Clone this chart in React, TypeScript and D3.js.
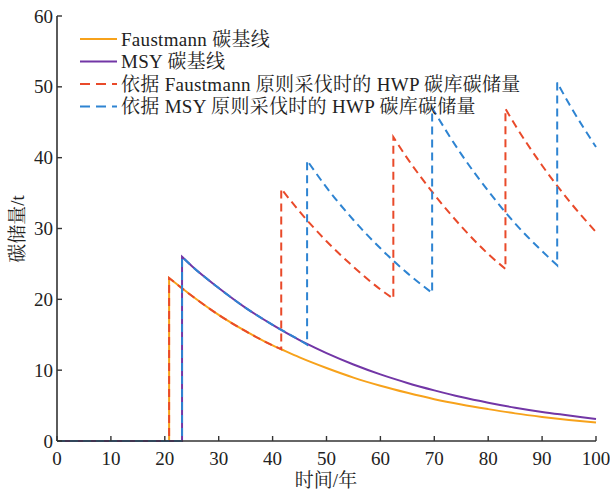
import React from "react";
import * as d3 from "d3";

// ---- data ----
const xTicks = [0, 10, 20, 30, 40, 50, 60, 70, 80, 90, 100];
const yTicks = [0, 10, 20, 30, 40, 50, 60];

// Faustmann carbon baseline
const faustYears = [0, 20.8, 20.8, 25, 30, 35, 40, 41.6, 45, 50, 55, 60, 65, 70, 75, 80, 85, 90, 95, 100];
const faustValues = [0, 0, 23.0, 20.5, 17.8, 15.5, 13.5, 12.95, 11.8, 10.3, 8.95, 7.8, 6.8, 5.9, 5.15, 4.5, 3.9, 3.4, 2.97, 2.6];

// MSY carbon baseline
const msyYears = [0, 23.2, 23.2, 25, 30, 35, 40, 45, 46.4, 50, 55, 60, 65, 70, 75, 80, 85, 90, 95, 100];
const msyValues = [0, 0, 26.0, 24.7, 21.6, 18.8, 16.4, 14.25, 13.7, 12.4, 10.8, 9.4, 8.2, 7.15, 6.2, 5.4, 4.7, 4.1, 3.6, 3.1];

// HWP carbon storage, Faustmann harvesting
const hwpFaustYears = [0, 20.8, 20.8, 25, 30, 35, 40, 41.6, 41.6, 45, 50, 55, 60, 62.4, 62.4, 65, 70, 75, 80, 83.2, 83.2, 85, 90, 95, 100];
const hwpFaustValues = [0, 0, 23.0, 20.5, 17.8, 15.5, 13.5, 12.95, 35.6, 32.4, 28.2, 24.6, 21.4, 20.1, 42.9, 39.9, 34.8, 30.3, 26.4, 24.3, 46.9, 44.6, 38.9, 33.9, 29.5];

// HWP carbon storage, MSY harvesting
const hwpMsyYears = [0, 23.2, 23.2, 25, 30, 35, 40, 45, 46.4, 46.4, 50, 55, 60, 65, 69.6, 69.6, 70, 75, 80, 85, 90, 92.8, 92.8, 95, 100];
const hwpMsyValues = [0, 0, 26.0, 24.7, 21.6, 18.8, 16.4, 14.25, 13.6, 39.6, 35.8, 31.2, 27.2, 23.7, 20.9, 47.0, 46.5, 40.5, 35.3, 30.7, 26.8, 24.8, 50.6, 47.6, 41.5];

const legendLabels = [
  "Faustmann 碳基线",
  "MSY 碳基线",
  "依据 Faustmann 原则采伐时的 HWP 碳库碳储量",
  "依据 MSY 原则采伐时的 HWP 碳库碳储量",
];

const FONT = "'Liberation Serif', 'Times New Roman', 'Noto Serif CJK SC', 'Noto Sans CJK SC', serif";

const W = 610;
const H = 492;
const left = 57;
const right = 596;
const top = 16;
const bottom = 441;

const x = d3.scaleLinear().domain([0, 100]).range([left, right]);
const y = d3.scaleLinear().domain([0, 60]).range([bottom, top]);

function buildPath(years: number[], values: number[]): string {
  const pts = years.map((t, i) => [t, values[i]] as [number, number]);
  const runs: [number, number][][] = [];
  let cur: [number, number][] = [];
  pts.forEach((p, i) => {
    if (i > 0 && p[0] === pts[i - 1][0]) {
      runs.push(cur);
      cur = [];
    }
    cur.push(p);
  });
  runs.push(cur);
  const line = d3
    .line<[number, number]>()
    .x((d) => x(d[0]))
    .y((d) => y(d[1]))
    .curve(d3.curveMonotoneX);
  return runs
    .map((r, i) => {
      const s = line(r) || "";
      return i === 0 ? s : "L" + s.slice(1);
    })
    .join("");
}

const series = [
  { years: faustYears, values: faustValues, color: "#F7A21B", dash: "" },
  { years: msyYears, values: msyValues, color: "#7236A6", dash: "" },
  { years: hwpFaustYears, values: hwpFaustValues, color: "#E94A2A", dash: "8,5" },
  { years: hwpMsyYears, values: hwpMsyValues, color: "#2E84D2", dash: "8,5" },
];

export default function App() {
  const axisColor = "#333";
  return (
    <div style={{ position: "absolute", left: 0, top: 0 }}>
      <svg width={W} height={H} style={{ display: "block", background: "#fff" }}>
        {/* series */}
        {series.map((s, i) => (
          <path
            key={i}
            d={buildPath(s.years, s.values)}
            fill="none"
            stroke={s.color}
            strokeWidth={2}
            strokeDasharray={s.dash || undefined}
            strokeLinejoin="miter"
          />
        ))}

        {/* axes */}
        <line x1={left} x2={left} y1={top} y2={bottom} stroke={axisColor} strokeWidth={1.6} />
        <line x1={left} x2={right} y1={bottom} y2={bottom} stroke={axisColor} strokeWidth={1.6} />
        {yTicks.map((t) => (
          <g key={"y" + t}>
            <line x1={left} x2={left + 5} y1={y(t)} y2={y(t)} stroke={axisColor} strokeWidth={1.4} />
            <text x={left - 4} y={y(t)} dy="0.35em" textAnchor="end" fontFamily={FONT} fontSize={19} fill="#222">
              {t}
            </text>
          </g>
        ))}
        {xTicks.map((t) => (
          <g key={"x" + t}>
            <line x1={x(t)} x2={x(t)} y1={bottom} y2={bottom - 5} stroke={axisColor} strokeWidth={1.4} />
            <text x={x(t)} y={465} textAnchor="middle" fontFamily={FONT} fontSize={19} fill="#222">
              {t}
            </text>
          </g>
        ))}
        <text x={326} y={487} textAnchor="middle" fontFamily={FONT} fontSize={19} fill="#222">
          时间/年
        </text>
        <text
          transform={`translate(24,229) rotate(-90)`}
          textAnchor="middle"
          fontFamily={FONT}
          fontSize={19}
          fill="#222"
        >
          碳储量/t
        </text>

        {/* legend */}
        {series.map((s, i) => {
          const ly = 39 + i * 22.5;
          return (
            <g key={"lg" + i}>
              <line
                x1={80}
                x2={117}
                y1={ly}
                y2={ly}
                stroke={s.color}
                strokeWidth={2}
                strokeDasharray={s.dash ? "10,6" : undefined}
              />
              <text
                x={121}
                y={ly}
                dy="0.35em"
                fontFamily={FONT}
                fontSize={19}
                letterSpacing={0.3}
                fill="#222"
              >
                {legendLabels[i]}
              </text>
            </g>
          );
        })}
      </svg>
    </div>
  );
}
